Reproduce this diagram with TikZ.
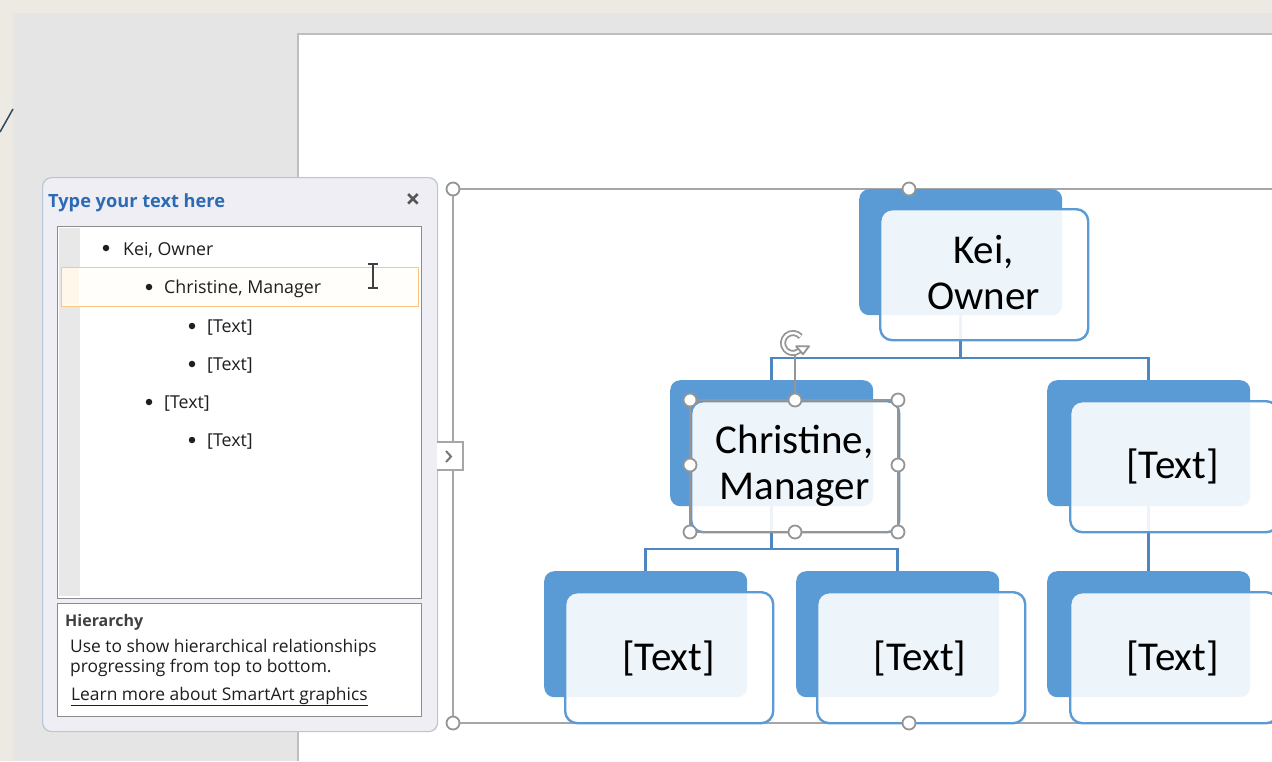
\documentclass[tikz,border=0pt]{standalone}
\usepackage{fontspec}
\setmainfont{Open Sans}
\newfontfamily\smartfont{Carlito}
\usetikzlibrary{arrows.meta}
\pgfdeclarelayer{bglayer}
\pgfdeclarelayer{connlayer}
\pgfsetlayers{bglayer,connlayer,main}
\definecolor{beige}{HTML}{EDEAE3}
\definecolor{appgray}{HTML}{E5E5E5}
\definecolor{slateLine}{HTML}{2E4A5C}
\definecolor{slideEdge}{HTML}{BEBEBE}
\definecolor{paneFill}{HTML}{EEEEF4}
\definecolor{paneEdge}{HTML}{B8C6D6}
\definecolor{titleBlue}{HTML}{2C6BB3}
\definecolor{closeGray}{HTML}{555555}
\definecolor{boxGray}{HTML}{8C8C8C}
\definecolor{stripGray}{HTML}{E8E8E8}
\definecolor{hlEdge}{HTML}{F8C784}
\definecolor{hlFill}{HTML}{FFFEFA}
\definecolor{hlLeft}{HTML}{FFF8EA}
\definecolor{txtDark}{HTML}{1E1E1E}
\definecolor{boxBlue}{HTML}{5B9BD5}
\definecolor{linkBlue}{HTML}{4F86C0}
\definecolor{selGray}{HTML}{A6A6A6}
\definecolor{handleGray}{HTML}{959595}
\tikzset{
  back/.style={fill=boxBlue, rounded corners=10pt, minimum width=203pt, minimum height=126pt, anchor=north west, inner sep=0pt},
  front/.style={draw=boxBlue, line width=2.4pt, fill=white, fill opacity=0.9, text opacity=1, rounded corners=12pt, minimum width=208pt, minimum height=131pt, anchor=north west, inner sep=0pt},
  link/.style={draw=linkBlue, line width=2.6pt},
  bigtext/.style={font=\smartfont\fontsize{41}{46}\selectfont, align=center, anchor=base, inner sep=0pt, text=black},
  handle/.style={circle, draw=handleGray, line width=1.8pt, fill=white, minimum size=13pt, inner sep=0pt},
  panetext/.style={font=\fontsize{17.8}{20}\selectfont, anchor=base west, inner sep=0pt, text=txtDark},
  desctext/.style={font=\fontsize{17.4}{20}\selectfont, anchor=base west, inner sep=0pt, text=txtDark},
  bulletdot/.style={circle, fill=txtDark, minimum size=6.5pt, inner sep=0pt},
  panebox/.style={draw=boxGray, fill=white, line width=1.3pt, anchor=north west, inner sep=0pt},
}
\begin{document}
\begin{tikzpicture}[x=1pt,y=-1pt]
\clip (0,0) rectangle (1272,761);
\begin{pgfonlayer}{bglayer}
% background
\fill[beige] (0,0) rectangle (1272,761);
\fill[appgray] (13,13) rectangle (1272,761);
\draw[slateLine, line width=1.5pt] (0,132) -- (13,109);
\fill[white] (298,34) rectangle (1272,761);
\draw[slideEdge, line width=1.5pt] (298,761) -- (298,34) -- (1272,34);
% SmartArt selection frame
\draw[selGray, line width=1.5pt] (1280,189) -- (453,189) -- (453,723) -- (1280,723);
\end{pgfonlayer}

% text pane
\node[draw=paneEdge, fill=paneFill, rounded corners=9pt, line width=1.2pt, minimum width=395pt, minimum height=554pt, anchor=north west, inner sep=0pt] (pane) at (42,177) {};
\node[anchor=base west, inner sep=0pt, font=\bfseries\fontsize{18.2}{20}\selectfont, text=titleBlue] (title) at (48,207) {Type your text here};
\node[inner sep=0pt, font=\bfseries\fontsize{26}{26}\selectfont, text=closeGray] (close) at (413,201) {×};

\node[panebox, minimum width=364pt, minimum height=372pt] (list) at (57,226) {};
\fill[stripGray] (59,228) rectangle (80,596);
\node[draw=hlEdge, fill=hlFill, line width=1.3pt, anchor=north west, minimum width=357pt, minimum height=39pt, inner sep=0pt] (hl) at (61,267) {};
\fill[hlLeft] (62,268) rectangle (79,305);

\node[bulletdot] (b1) at (106,248) {};
\node[panetext] (t1) at (123,255) {Kei, Owner};
\node[bulletdot] (b2) at (149,287) {};
\node[panetext] (t2) at (164,293) {Christine, Manager};
\node[bulletdot] (b3) at (192,326) {};
\node[panetext] (t3) at (207,332) {[Text]};
\node[bulletdot] (b4) at (192,364) {};
\node[panetext] (t4) at (207,370) {[Text]};
\node[bulletdot] (b5) at (149,402) {};
\node[panetext] (t5) at (164,408) {[Text]};
\node[bulletdot] (b6) at (192,440) {};
\node[panetext] (t6) at (207,446) {[Text]};

% I-beam cursor
\draw[txtDark!85, line width=1.3pt] (373,264) -- (373,288);
\draw[txtDark!85, line width=1.3pt] (368,264) -- (378,264) (368,288) -- (378,288);

\node[panebox, minimum width=364pt, minimum height=113pt] (desc) at (57,603) {};
\node[anchor=base west, inner sep=0pt, font=\bfseries\fontsize{16}{20}\selectfont, text=txtDark!85] (hier) at (65,626) {Hierarchy};
\node[desctext] (d1) at (70,652) {Use to show hierarchical relationships};
\node[desctext] (d2) at (70,672) {progressing from top to bottom.};
\node[desctext] (d3) at (71,700) {\underline{Learn more about SmartArt graphics}};

% collapse tab
\draw[selGray, fill=white, line width=1.2pt] (437,442) -- (463,442) -- (463,470) -- (437,470);
\draw[closeGray!80, line width=2pt] (446,451) -- (451,456.5) -- (446,462);

% boxes
\node[back] (keiB) at (859,189) {};
\node[back] (chrB) at (670,380) {};
\node[back] (rgtB) at (1047,380) {};
\node[back] (blB) at (544,571) {};
\node[back] (bmB) at (796,571) {};
\node[back] (brB) at (1047,571) {};

\begin{pgfonlayer}{connlayer}
\draw[link] (keiB.south) -- (keiB.south |- 0,358) -| (chrB.north);
\draw[link] (keiB.south |- 0,358) -| (rgtB.north);
\draw[link] (chrB.south) -- (chrB.south |- 0,549) -| (blB.north);
\draw[link] (chrB.south |- 0,549) -| (bmB.north);
\draw[link] (rgtB.south) -- (brB.north);
\end{pgfonlayer}

\node[front] (keiF) at (879,208) {};
\node[front] (chrF) at (690,400) {};
\node[front] (rgtF) at (1069,400) {};
\node[front] (blF) at (564,591) {};
\node[front] (bmF) at (816,591) {};
\node[front] (brF) at (1069,591) {};

\node[bigtext] (keiT) at (983.5,309.5) {Kei,\\Owner};
\node[bigtext] (chrT) at (794.5,499) {Christine,\\Manager};
\node[bigtext] (rgtT) at (1172.5,478) {[Text]};
\node[bigtext] (blT) at (668.5,670) {[Text]};
\node[bigtext] (bmT) at (920,670) {[Text]};
\node[bigtext] (brT) at (1172.5,670) {[Text]};

% selection of Christine
\draw[handleGray, line width=1.8pt] (690,400) rectangle (898,532);
\draw[handleGray, line width=1.8pt] (795,355) -- (795,400);
\coordinate (rotc) at (793,343);
\draw[handleGray, line width=6pt] (rotc) ++(-40:10) arc[start angle=-40, end angle=-335, radius=10];
\draw[white, line width=2.4pt] (rotc) ++(-42:10) arc[start angle=-42, end angle=-333, radius=10];
\filldraw[fill=white, draw=handleGray, line width=1.8pt, line join=round] (rotc) ++(-335:10) ++(-6,-1) -- ++(13,0) -- ++(-6,8) -- cycle;

\node[handle] (h1) at (453,189) {};
\node[handle] (h2) at (909,189) {};
\node[handle] (h3) at (453,723) {};
\node[handle] (h4) at (909,723) {};
\node[handle] (c1) at (690,400) {};
\node[handle] (c2) at (795,400) {};
\node[handle] (c3) at (898,400) {};
\node[handle] (c4) at (690,465) {};
\node[handle] (c5) at (898,465) {};
\node[handle] (c6) at (690,532) {};
\node[handle] (c7) at (795,532) {};
\node[handle] (c8) at (898,532) {};
\end{tikzpicture}
\end{document}
